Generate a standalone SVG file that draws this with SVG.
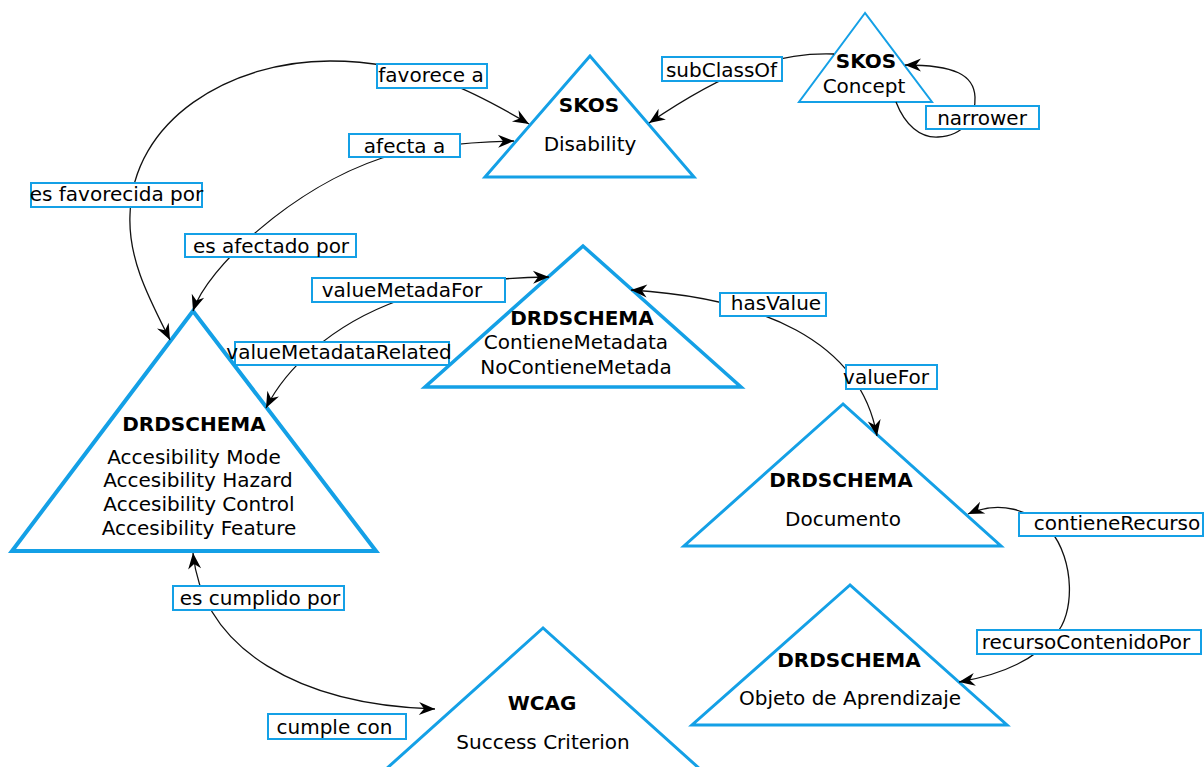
<svg xmlns="http://www.w3.org/2000/svg" width="1204" height="767" viewBox="0 0 1204 767">
  <style>
    .tri { fill: #ffffff; stroke: #14a0e6; stroke-linejoin: miter; }
    .title { font-family: "DejaVu Sans", "Liberation Sans", sans-serif; font-size: 20px; font-weight: bold; fill: #000; text-anchor: middle; }
    .body { font-family: "DejaVu Sans", "Liberation Sans", sans-serif; font-size: 20px; fill: #000; text-anchor: middle; }
    .edge { fill: none; stroke: #111; stroke-width: 1.3; }
    .lbox { fill: #ffffff; stroke: #14a0e6; stroke-width: 2; }
    .ltext { font-family: "DejaVu Sans", "Liberation Sans", sans-serif; font-size: 20px; fill: #000; text-anchor: middle; }
  </style>
  <defs>
    <marker id="head" markerUnits="userSpaceOnUse" viewBox="-17 -7 18 14" refX="0" refY="0" markerWidth="18" markerHeight="14" orient="auto-start-reverse">
      <path d="M0,0 L-16,-6.5 L-11,0 L-16,6.5 Z" fill="#000"/>
    </marker>
  </defs>

  <rect width="1204" height="767" fill="#ffffff"/>

  <!-- nodes -->
  <g id="skos-disability">
    <polygon class="tri" stroke-width="3" points="590,56 485,177 694,177"/>
    <text class="title" x="589" y="112">SKOS</text>
    <text class="body" x="590" y="151">Disability</text>
  </g>
  <g id="skos-concept">
    <polygon class="tri" stroke-width="2" points="865,13 799,102 932,102"/>
    <text class="title" x="866" y="68">SKOS</text>
    <text class="body" x="864" y="93">Concept</text>
  </g>
  <g id="drd-metadata">
    <polygon class="tri" stroke-width="3.5" points="583,246 425,387 741,387"/>
    <text class="title" x="582" y="325">DRDSCHEMA</text>
    <text class="body" x="576" y="349">ContieneMetadata</text>
    <text class="body" x="576" y="374">NoContieneMetada</text>
  </g>
  <g id="drd-accesibility">
    <polygon class="tri" stroke-width="4" points="193,311 12,551 376,551"/>
    <text class="title" x="194" y="431">DRDSCHEMA</text>
    <text class="body" x="194" y="464">Accesibility Mode</text>
    <text class="body" x="198" y="487">Accesibility Hazard</text>
    <text class="body" x="199" y="511">Accesibility Control</text>
    <text class="body" x="199" y="535">Accesibility Feature</text>
  </g>
  <g id="drd-documento">
    <polygon class="tri" stroke-width="3" points="843,404 684,546 1001,546"/>
    <text class="title" x="841" y="487">DRDSCHEMA</text>
    <text class="body" x="843" y="526">Documento</text>
  </g>
  <g id="drd-objeto">
    <polygon class="tri" stroke-width="3" points="850,585 692,725 1007,725"/>
    <text class="title" x="849" y="667">DRDSCHEMA</text>
    <text class="body" x="850" y="705">Objeto de Aprendizaje</text>
  </g>
  <g id="wcag-criterion">
    <polygon class="tri" stroke-width="3" points="543,628 385,770 701,770"/>
    <text class="title" x="542" y="710">WCAG</text>
    <text class="body" x="543" y="749">Success Criterion</text>
  </g>

  <!-- connectors -->
  <g id="connectors">
    <!-- favorece a / es favorecida por -->
    <path class="edge" marker-start="url(#head)" marker-end="url(#head)"
          d="M170,340 C150,300 128,260 130,215 C132,120 230,61 330,61 C420,61 480,95 529,124"/>
    <!-- afecta a / es afectado por -->
    <path class="edge" marker-start="url(#head)" marker-end="url(#head)"
          d="M193,311 C207,268 292,188 382,158 C420,146 470,142 514,141"/>
    <!-- subClassOf -->
    <path class="edge" marker-end="url(#head)"
          d="M834,54 C780,52 730,68 649,123"/>
    <!-- narrower (self loop) -->
    <path class="edge" marker-end="url(#head)"
          d="M896,102 C905,125 920,138 938,137 C965,136 976,115 975,97 C974,75 955,65 905,65"/>
    <!-- valueMetadaFor / valueMetadataRelated -->
    <path class="edge" marker-start="url(#head)" marker-end="url(#head)"
          d="M266,408 C285,370 330,325 400,300 C440,286 480,278 549,277"/>
    <!-- hasValue / valueFor -->
    <path class="edge" marker-start="url(#head)" marker-end="url(#head)"
          d="M631,290 C760,298 860,340 877,436"/>
    <!-- contieneRecurso / recursoContenidoPor -->
    <path class="edge" marker-start="url(#head)" marker-end="url(#head)"
          d="M968,514 C1000,500 1030,510 1050,530 C1075,560 1075,615 1055,635 C1035,660 1000,675 959,682"/>
    <!-- es cumplido por / cumple con -->
    <path class="edge" marker-start="url(#head)" marker-end="url(#head)"
          d="M193,553 C203,650 300,705 435,709"/>

    <!-- edge labels -->
    <g id="edge-labels">
      <rect class="lbox" x="377" y="64" width="110" height="24"/>
      <text class="ltext" x="431" y="82">favorece a</text>

      <rect class="lbox" x="349" y="134" width="111" height="23"/>
      <text class="ltext" x="404.5" y="153">afecta a</text>

      <rect class="lbox" x="31" y="183" width="171" height="24"/>
      <text class="ltext" x="116.5" y="201">es favorecida por</text>

      <rect class="lbox" x="185" y="234" width="171" height="23"/>
      <text class="ltext" x="271" y="253">es afectado por</text>

      <rect class="lbox" x="312" y="278" width="193" height="24"/>
      <text class="ltext" x="402" y="297">valueMetadaFor</text>

      <rect class="lbox" x="235" y="342" width="214" height="23"/>
      <text class="ltext" x="339" y="359">valueMetadataRelated</text>

      <rect class="lbox" x="662" y="57" width="120" height="24"/>
      <text class="ltext" x="721.5" y="77">subClassOf</text>

      <rect class="lbox" x="926" y="106" width="113" height="23"/>
      <text class="ltext" x="982" y="125">narrower</text>

      <rect class="lbox" x="720" y="293" width="106" height="23"/>
      <text class="ltext" x="776" y="310">hasValue</text>

      <rect class="lbox" x="846" y="365" width="91" height="24"/>
      <text class="ltext" x="886" y="384">valueFor</text>

      <rect class="lbox" x="1019" y="513" width="184" height="23"/>
      <text class="ltext" x="1117" y="530">contieneRecurso</text>

      <rect class="lbox" x="977" y="630" width="224" height="24"/>
      <text class="ltext" x="1086" y="649">recursoContenidoPor</text>

      <rect class="lbox" x="173" y="586" width="171" height="24"/>
      <text class="ltext" x="260" y="605">es cumplido por</text>

      <rect class="lbox" x="268" y="714" width="138" height="25"/>
      <text class="ltext" x="334.5" y="734">cumple con</text>
    </g>
  </g>
</svg>
